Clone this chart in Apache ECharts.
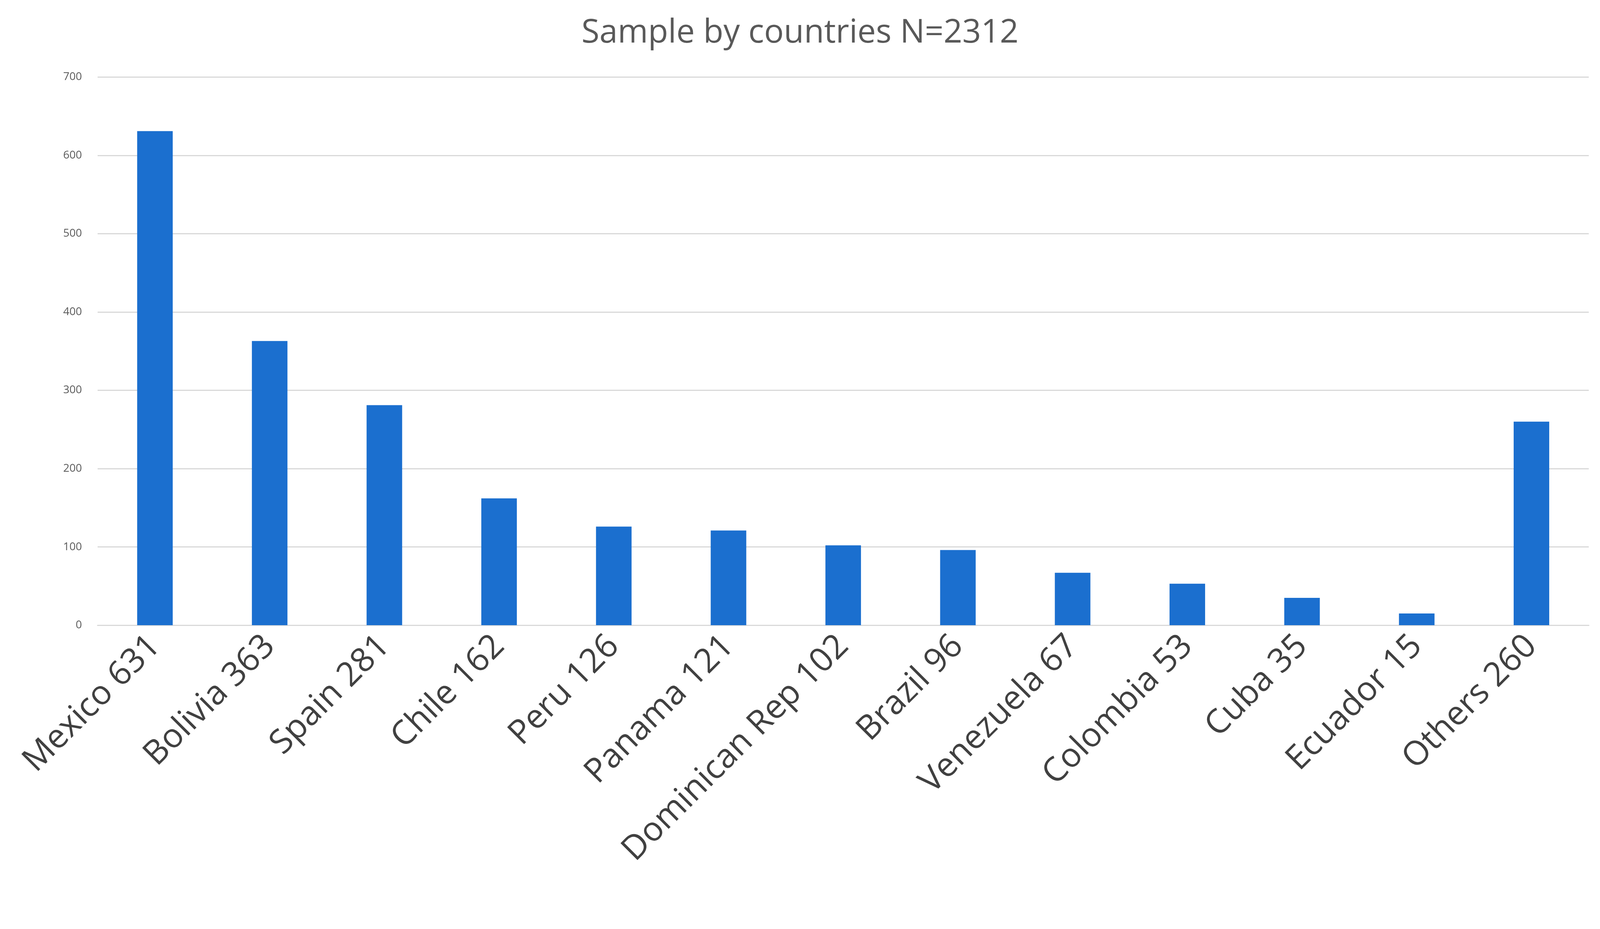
<!DOCTYPE html>
<html>
<head>
<meta charset="UTF-8">
<title>Sample by countries</title>
<style>
  *{margin:0;padding:0;}
  html,body{width:100%;height:100%;background:#fff;overflow:hidden;}
  .container{width:100vw;height:100vh;}
</style>
<script src="https://cdn.jsdelivr.net/npm/echarts@6/dist/echarts.min.js"></script>
</head>
<body>
<div class="container"></div>
<script>
  let countries=['Mexico','Bolivia','Spain','Chile','Peru','Panama','Dominican Rep','Brazil','Venezuela','Colombia','Cuba','Ecuador','Others']
  let counts=[631,363,281,162,126,121,102,96,67,53,35,15,260]
  let yTicks=[0,100,200,300,400,500,600,700]

  let labels=countries.map((c,i)=>c+' '+counts[i])
  let mychart=echarts.init(document.querySelector('.container'))
  let option={
    backgroundColor:'#fff',
    title:{
      text:'Sample by countries N=2312',
      left:'center',
      top:'1.6%',
      textStyle:{fontFamily:'Open Sans',fontWeight:'normal',fontSize:84,color:'#595959'}
    },
    grid:{left:'6.1%',right:'0.7%',top:'8.3%',bottom:'32.7%'},
    xAxis:{
      type:'category',
      data:labels,
      axisTick:{show:false},
      axisLine:{lineStyle:{color:'#d9d9d9',width:3}},
      axisLabel:{rotate:45,fontFamily:'Open Sans',fontSize:86,color:'#404040',margin:40,interval:0}
    },
    yAxis:{
      type:'value',
      min:yTicks[0],
      max:yTicks[yTicks.length-1],
      interval:100,
      axisLine:{show:false},
      axisTick:{show:false},
      axisLabel:{fontFamily:'Open Sans',fontSize:28,color:'#595959',margin:40},
      splitLine:{lineStyle:{color:'#d9d9d9',width:3}}
    },
    series:[{
      type:'bar',
      data:counts,
      barWidth:'31%',
      itemStyle:{color:'#1b6fcf'}
    }]
  }
  mychart.setOption(option)
  window.addEventListener('resize',()=>mychart.resize())
</script>
</body>
</html>
